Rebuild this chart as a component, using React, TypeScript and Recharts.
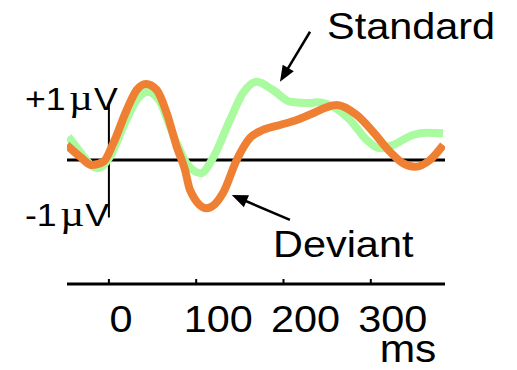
import React from "react";
import {
  LineChart,
  Line,
  XAxis,
  YAxis,
  ReferenceLine,
} from "recharts";

// Time (ms) and amplitude (µV) samples of the two grand-average waveforms
const standardMs = [-46.5, -33.1, -17.9, -12.1, 1.3, 16.5, 31.8, 44.0, 58.5, 70.0, 89.1, 105.2, 119.2, 138.7, 153.6, 169.3, 188.0, 207.4, 230.3, 238.0, 256.7, 276.2, 295.3, 310.5, 325.4, 348.3, 364.0, 382.7];
const standardUv = [0.405, 0.144, -0.117, -0.144, 0.057, 0.579, 1.043, 1.188, 1.014, 0.579, -0.057, -0.231, 0.035, 0.696, 1.165, 1.362, 1.217, 1.014, 0.991, 1.003, 0.927, 0.696, 0.348, 0.203, 0.261, 0.435, 0.475, 0.464];

const deviantMs = [-48.3, -33.1, -19.7, -6.4, 5.0, 20.4, 31.8, 42.5, 54.8, 66.2, 77.7, 87.2, 92.9, 112.0, 130.7, 146.4, 161.6, 176.5, 196.0, 215.1, 230.4, 260.9, 283.8, 302.5, 322.0, 336.9, 350.6, 367.8, 383.0];
const deviantUv = [0.261, 0.057, -0.087, -0.03, 0.29, 0.87, 1.217, 1.322, 1.217, 0.817, 0.231, -0.174, -0.522, -0.84, -0.574, 0, 0.383, 0.522, 0.609, 0.696, 0.79, 0.957, 0.783, 0.492, 0.144, -0.057, -0.117, 0, 0.261];

const timeTicks = [0, 100, 200, 300];
const timeUnit = "ms";
const seriesNames = ["Standard", "Deviant"];

// Annotation arrows (tail -> head) in data units
const standardArrow = [
  { x: 230.4, y: 2.231 },
  { x: 196.0, y: 1.362 },
];
const deviantArrow = [
  { x: 207.4, y: -1.043 },
  { x: 140.7, y: -0.609 },
];

const standardData = standardMs.map((t, i) => ({ t, v: standardUv[i] }));
const deviantData = deviantMs.map((t, i) => ({ t, v: deviantUv[i] }));

const SANS = "'Liberation Sans', Arial, sans-serif";
const SERIF = "'Liberation Serif', 'Times New Roman', serif";

const W = 517;
const H = 370;

const ArrowShape = (props: any) => {
  const { x1, y1, x2, y2 } = props;
  const dx = x2 - x1;
  const dy = y2 - y1;
  const len = Math.hypot(dx, dy) || 1;
  const ux = dx / len;
  const uy = dy / len;
  const headLen = 16;
  const headHalf = 6.5;
  const bx = x2 - ux * headLen;
  const by = y2 - uy * headLen;
  const px = -uy;
  const py = ux;
  return (
    <g>
      <line x1={x1} y1={y1} x2={bx + ux * 2} y2={by + uy * 2} stroke="#000" strokeWidth={2.5} />
      <polygon
        points={`${x2},${y2} ${bx + px * headHalf},${by + py * headHalf} ${bx - px * headHalf},${by - py * headHalf}`}
        fill="#000"
      />
    </g>
  );
};

const TimeTick = (props: any) => {
  const { x, y, payload } = props;
  const shift = payload.value === 0 ? 12 : 22;
  return (
    <g>
      <line x1={x} y1={y - 5} x2={x} y2={y} stroke="#000" strokeWidth={2} />
      <g transform={`translate(${x + shift},${y + 47.7}) scale(1.12,1)`}>
        <text x={0} y={0} textAnchor="middle" fontFamily={SANS} fontSize={37} fill="#000">
          {payload.value}
        </text>
      </g>
    </g>
  );
};

const MicroVoltLabel = ({ x, y, sign }: { x: number; y: number; sign: string }) => (
  <g transform={`translate(${x},${y}) scale(1.15,1)`}>
    <text x={0} y={0} fontFamily={SANS} fontSize={31} fill="#000">
      {sign}1
      <tspan dx={3} fontFamily={SERIF} fontSize={36}>µ</tspan>
      <tspan dx={1}>V</tspan>
    </text>
  </g>
);

const BigLabel = ({ x, y, text }: { x: number; y: number; text: string }) => (
  <g transform={`translate(${x},${y}) scale(1.12,1)`}>
    <text x={0} y={0} fontFamily={SANS} fontSize={37} fill="#000">
      {text}
    </text>
  </g>
);

export default function App() {
  return (
    <div style={{ position: "absolute", left: 0, top: 0, width: W, height: H, background: "#fff" }}>
      <LineChart
        width={W}
        height={H}
        margin={{ top: 10, right: 72, bottom: 0, left: 67 }}
      >
        <XAxis
          dataKey="t"
          type="number"
          domain={[-48, 385]}
          ticks={timeTicks}
          allowDataOverflow
          height={86}
          axisLine={{ stroke: "#000", strokeWidth: 3 }}
          tickLine={false}
          tickSize={0}
          tickMargin={0}
          tick={<TimeTick />}
          interval={0}
        />
        <YAxis type="number" domain={[-2.157, 2.609]} allowDataOverflow hide />
        <ReferenceLine y={0} stroke="#000" strokeWidth={3} />
        <ReferenceLine
          segment={[
            { x: 0, y: -1 },
            { x: 0, y: 1 },
          ]}
          stroke="#000"
          strokeWidth={2}
        />
        <Line
          data={standardData}
          dataKey="v"
          name={seriesNames[0]}
          type="monotone"
          stroke="#aafa9f"
          strokeWidth={8}
          dot={false}
          isAnimationActive={false}
        />
        <Line
          data={deviantData}
          dataKey="v"
          name={seriesNames[1]}
          type="monotone"
          stroke="#ee7f33"
          strokeWidth={8}
          dot={false}
          isAnimationActive={false}
        />
        <ReferenceLine segment={standardArrow} shape={ArrowShape} />
        <ReferenceLine segment={deviantArrow} shape={ArrowShape} />
      </LineChart>
      <svg
        width={W}
        height={H}
        style={{ position: "absolute", left: 0, top: 0, pointerEvents: "none" }}
      >
        <MicroVoltLabel x={25} y={110} sign="+" />
        <MicroVoltLabel x={25} y={226} sign="-" />
        <BigLabel x={327} y={39.3} text={seriesNames[0]} />
        <BigLabel x={273} y={256.7} text={seriesNames[1]} />
        <g transform={`translate(408,361.7) scale(1.12,1)`}>
          <text x={0} y={0} textAnchor="middle" fontFamily={SANS} fontSize={38} fill="#000">
            {timeUnit}
          </text>
        </g>
      </svg>
    </div>
  );
}
